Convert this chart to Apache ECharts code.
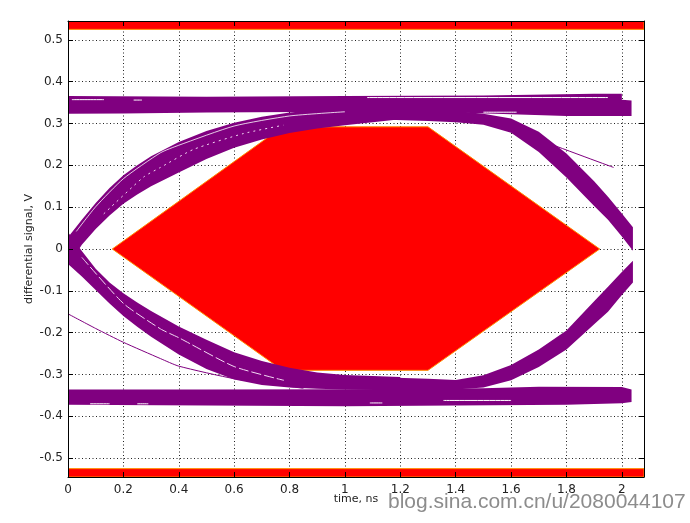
<!DOCTYPE html>
<html><head><meta charset="utf-8">
<script src="https://cdn.jsdelivr.net/npm/echarts@6/dist/echarts.min.js"></script>
<style>html,body{margin:0;padding:0;background:#fff}#c{width:690px;height:523px}</style>
</head><body><div id="c"></div>
<script>
// ---- axis ticks ----
const xTickValues = [0, 0.2, 0.4, 0.6, 0.8, 1, 1.2, 1.4, 1.6, 1.8, 2];
const yTickValues = [-0.5, -0.4, -0.3, -0.2, -0.1, 0, 0.1, 0.2, 0.3, 0.4, 0.5];
const xRange = [0, 2.08];
const yRange = [-0.545, 0.545];

// ---- eye mask (red) ----
const maskHexagon = [[0.16, 0], [0.775, 0.292], [1.30, 0.292], [1.92, 0], [1.30, -0.29], [0.775, -0.29]];
const maskTop = [[0, 0.525], [2.08, 0.525], [2.08, 0.545], [0, 0.545]];
const maskBottom = [[0, -0.525], [2.08, -0.525], [2.08, -0.545], [0, -0.545]];

// ---- purple trace bands (outline: upper edge left->right, lower edge right->left) ----
const bandTopRail = [[0,0.366],[0.5,0.364],[1.0,0.366],[1.5,0.367],[1.9,0.371],[2.0,0.371],[2.0,0.357],[2.035,0.355],[2.035,0.318],
  [1.8,0.318],[1.6,0.322],[1.4,0.326],[1.0,0.328],[0.5,0.326],[0.2,0.324],[0,0.323]];
const bandBottomRail = [[0,-0.336],[0.5,-0.336],[1.0,-0.335],[1.5,-0.333],[1.7,-0.329],[2.0,-0.33],[2.035,-0.336],
  [2.035,-0.366],[2.0,-0.369],[1.8,-0.372],[1.0,-0.376],[0.5,-0.374],[0,-0.372]];
const bandRiseLeft = [[0,0.028],[0.05,0.07],[0.1,0.11],[0.15,0.146],[0.2,0.176],[0.25,0.2],[0.3,0.222],[0.4,0.256],[0.5,0.282],
  [0.6,0.302],[0.7,0.316],[0.8,0.326],[0.9,0.332],[1.0,0.335],[1.2,0.336],
  [1.2,0.31],[1.0,0.296],[0.9,0.288],[0.8,0.277],[0.7,0.262],[0.6,0.242],[0.5,0.215],[0.4,0.183],[0.3,0.15],[0.25,0.13],
  [0.2,0.108],[0.15,0.08],[0.1,0.048],[0.05,0.01],[0,-0.04]];
const bandFallLeft = [[0,0.04],[0.05,-0.005],[0.1,-0.047],[0.15,-0.08],[0.2,-0.106],[0.25,-0.128],[0.3,-0.148],[0.4,-0.185],
  [0.5,-0.217],[0.6,-0.247],[0.7,-0.268],[0.8,-0.284],[0.9,-0.295],[1.0,-0.301],[1.2,-0.306],
  [1.2,-0.337],[1.0,-0.336],[0.9,-0.334],[0.8,-0.331],[0.7,-0.325],[0.6,-0.312],[0.5,-0.287],[0.4,-0.252],[0.3,-0.21],
  [0.25,-0.186],[0.2,-0.16],[0.15,-0.13],[0.1,-0.098],[0.05,-0.066],[0,-0.036]];
const bandFallRight = [[1.1,0.336],[1.3,0.334],[1.4,0.33],[1.5,0.323],[1.6,0.312],[1.7,0.28],[1.8,0.228],[1.9,0.162],
  [1.95,0.125],[2.0,0.085],[2.04,0.052],
  [2.04,-0.004],[2.0,0.03],[1.95,0.07],[1.9,0.103],[1.8,0.171],[1.7,0.232],[1.6,0.278],[1.5,0.297],[1.4,0.303],[1.3,0.306],[1.1,0.31]];
const bandRiseRight = [[1.1,-0.306],[1.3,-0.31],[1.4,-0.313],[1.5,-0.302],[1.6,-0.277],[1.7,-0.24],[1.8,-0.195],[1.9,-0.125],
  [1.95,-0.09],[2.0,-0.055],[2.04,-0.028],
  [2.04,-0.08],[2.0,-0.11],[1.95,-0.15],[1.9,-0.18],[1.8,-0.24],[1.7,-0.282],[1.6,-0.314],[1.5,-0.331],[1.4,-0.336],[1.1,-0.337]];

// ---- thin stray traces ----
const strayLowerLeft = [[0,-0.155],[0.1,-0.19],[0.2,-0.223],[0.334,-0.262],[0.4,-0.28],[0.6,-0.31],[0.85,-0.333]];
const strayUpperRight = [[1.6,0.296],[1.66,0.272],[1.97,0.195]];

// ---- white gaps inside the trace bands ----
const gapRiseOuter = [[0.03,0.042],[0.1,0.101],[0.2,0.168],[0.334,0.23],[0.4,0.248],[0.6,0.294],[0.8,0.318],[1.0,0.328]];
const gapRiseInner = [[0.129,0.084],[0.273,0.172],[0.334,0.195],[0.453,0.238],[0.634,0.276],[0.778,0.296]];
const gapFallInner = [[0.05,-0.02],[0.2,-0.13],[0.334,-0.191],[0.4,-0.212],[0.6,-0.281],[0.78,-0.314]];
const gapTopRailA = [[0.014,0.357],[0.13,0.357]];
const gapTopRailB = [[0.237,0.356],[0.267,0.356]];
const gapTopRailC = [[1.08,0.362],[1.95,0.362]];
const gapTopRailD = [[1.5,0.327],[1.62,0.327]];
const gapBotRailA = [[0.08,-0.37],[0.15,-0.37]];
const gapBotRailB = [[0.25,-0.37],[0.29,-0.37]];
const gapBotRailC = [[1.356,-0.362],[1.6,-0.362]];
const gapBotRailD = [[1.09,-0.368],[1.135,-0.368]];

const RED = '#ff0000', ORANGE = '#ff8a00', PURPLE = '#800080';

function polygonSeries(pts, fill, stroke, z) {
  return {
    type: 'custom', z: z, silent: true, clip: true,
    xAxisIndex: 0, yAxisIndex: 0,
    data: [[pts[0][0], pts[0][1]]],
    renderItem: function (params, api) {
      return {
        type: 'polygon',
        shape: { points: pts.map(function (p) { return api.coord(p); }) },
        style: { fill: fill, stroke: stroke || null, lineWidth: stroke ? 1 : 0 }
      };
    }
  };
}
function lineSeries(pts, color, width, z, dash) {
  return {
    type: 'line', z: z, silent: true, data: pts, symbol: 'none', smooth: 0.2,
    xAxisIndex: 0, yAxisIndex: 0,
    lineStyle: { color: color, width: width, type: dash || 'solid' }
  };
}

const fontFam = 'DejaVu Sans, Liberation Sans, Arial, sans-serif';
function frameAxis(pos, ticks, range) {
  return {
    type: 'value', position: pos, min: range[0], max: range[1], z: 10,
    axisLine: { show: true, onZero: false, lineStyle: { color: '#000', width: 1 } },
    axisTick: { show: true, inside: true, length: 5, customValues: ticks, lineStyle: { color: '#000' } },
    axisLabel: { show: false }, splitLine: { show: false }
  };
}
function fmt(v) { return String(Math.round(v * 10) / 10); }

const option = {
  animation: false,
  backgroundColor: '#fff',
  grid: { left: 68, top: 21, right: 46, bottom: 46, containLabel: false },
  xAxis: [
    {
      type: 'value', position: 'bottom', min: xRange[0], max: xRange[1],
      name: 'time, ns', nameLocation: 'middle', nameGap: 17, nameMoveOverlap: false,
      nameTextStyle: { fontFamily: fontFam, fontSize: 11, color: '#222' },
      axisLine: { show: false, onZero: false }, axisTick: { show: false, customValues: xTickValues },
      axisLabel: { customValues: xTickValues, formatter: fmt, margin: 7, fontFamily: fontFam, fontSize: 12, color: '#222' },
      splitLine: { show: true, lineStyle: { color: '#222', width: 1, type: [1, 2.5] } }
    },
    frameAxis('bottom', xTickValues, xRange),
    frameAxis('top', xTickValues, xRange)
  ],
  yAxis: [
    {
      type: 'value', position: 'left', min: yRange[0], max: yRange[1],
      name: 'differential signal, V', nameLocation: 'middle', nameGap: 33, nameMoveOverlap: false,
      nameTextStyle: { fontFamily: fontFam, fontSize: 11, color: '#222' },
      axisLine: { show: false, onZero: false }, axisTick: { show: false, customValues: yTickValues },
      axisLabel: { customValues: yTickValues, formatter: fmt, margin: 5, fontFamily: fontFam, fontSize: 12, color: '#222' },
      splitLine: { show: true, lineStyle: { color: '#222', width: 1, type: [1, 2.5] } }
    },
    frameAxis('left', yTickValues, yRange),
    frameAxis('right', yTickValues, yRange)
  ],
  graphic: [{
    type: 'text', left: 388, top: 492, z: 100,
    style: { text: 'blog.sina.com.cn/u/2080044107', fontFamily: 'Liberation Sans, Arial, sans-serif', fontSize: 21, fill: '#8c8c8c' }
  }],
  series: [
    polygonSeries(maskTop, RED, ORANGE, 2),
    polygonSeries(maskBottom, RED, ORANGE, 2),
    polygonSeries(maskHexagon, RED, ORANGE, 2),
    polygonSeries(bandTopRail, PURPLE, null, 3),
    polygonSeries(bandBottomRail, PURPLE, null, 3),
    polygonSeries(bandRiseLeft, PURPLE, null, 3),
    polygonSeries(bandFallLeft, PURPLE, null, 3),
    polygonSeries(bandFallRight, PURPLE, null, 3),
    polygonSeries(bandRiseRight, PURPLE, null, 3),
    lineSeries(strayLowerLeft, PURPLE, 1, 3),
    lineSeries(strayUpperRight, PURPLE, 1, 3),
    lineSeries(gapRiseOuter, '#ffffff', 0.8, 4),
    lineSeries(gapRiseInner, '#f4d9f4', 1, 4, [2, 4]),
    lineSeries(gapFallInner, '#f4d9f4', 1, 4, [10, 3]),
    lineSeries(gapTopRailA, '#ffffff', 1, 4),
    lineSeries(gapTopRailB, '#ffffff', 1, 4),
    lineSeries(gapTopRailC, '#ffffff', 1, 4),
    lineSeries(gapTopRailD, '#ffffff', 1, 4),
    lineSeries(gapBotRailA, '#ffffff', 1, 4),
    lineSeries(gapBotRailB, '#ffffff', 1, 4),
    lineSeries(gapBotRailC, '#ffffff', 1, 4),
    lineSeries(gapBotRailD, '#ffffff', 1, 4)
  ]
};
const chart = echarts.init(document.getElementById('c'), null, { renderer: 'canvas' });
chart.setOption(option);
</script>
</body></html>
